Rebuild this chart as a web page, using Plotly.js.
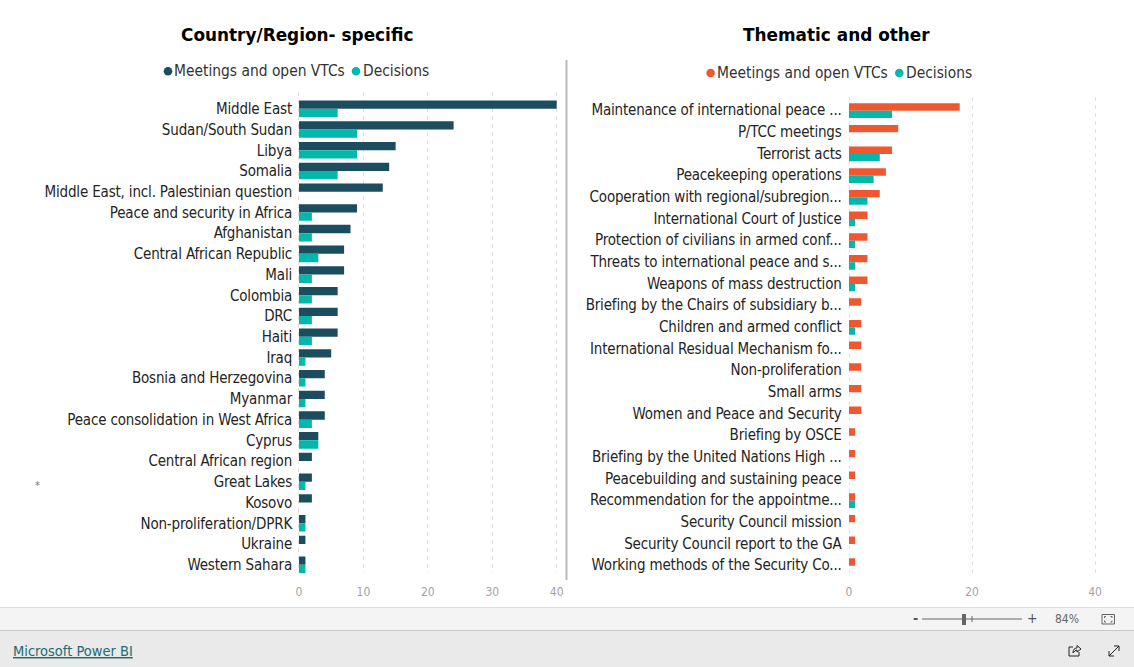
<!DOCTYPE html>
<html><head><meta charset="utf-8">
<script src="https://cdn.plot.ly/plotly-3.0.1.min.js"></script>
<style>html,body{margin:0;padding:0;background:#fff;overflow:hidden}#c{width:1134px;height:667px}
.ytick text,.y2tick text{letter-spacing:-0.17px}</style>
</head><body><div id="c"></div>
<script>
const countryCats = ["Middle East","Sudan/South Sudan","Libya","Somalia","Middle East, incl. Palestinian question","Peace and security in Africa","Afghanistan","Central African Republic","Mali","Colombia","DRC","Haiti","Iraq","Bosnia and Herzegovina","Myanmar","Peace consolidation in West Africa","Cyprus","Central African region","Great Lakes","Kosovo","Non-proliferation/DPRK","Ukraine","Western Sahara"];
const countryMeetings = [40,24,15,14,13,9,8,7,7,6,6,6,5,4,4,4,3,2,2,2,1,1,1];
const countryDecisions = [6,9,9,6,0,2,2,3,2,2,2,2,1,1,1,2,3,0,1,0,1,0,1];
const themeCats = ["Maintenance of international peace ...","P/TCC meetings","Terrorist acts","Peacekeeping operations","Cooperation with regional/subregion...","International Court of Justice","Protection of civilians in armed conf...","Threats to international peace and s...","Weapons of mass destruction","Briefing by the Chairs of subsidiary b...","Children and armed conflict","International Residual Mechanism fo...","Non-proliferation","Small arms","Women and Peace and Security","Briefing by OSCE","Briefing by the United Nations High ...","Peacebuilding and sustaining peace","Recommendation for the appointme...","Security Council mission","Security Council report to the GA","Working methods of the Security Co..."];
const themeMeetings = [18,8,7,6,5,3,3,3,3,2,2,2,2,2,2,1,1,1,1,1,1,1];
const themeDecisions = [7,0,5,4,3,1,1,1,1,0,1,0,0,0,0,0,0,0,1,0,0,0];
const seriesNames = ["Meetings and open VTCs","Decisions"];
const xTicksLeft = [0,10,20,30,40];
const xTicksRight = [0,20,40];

const W=1134,H=667;
const FONT='"DejaVu Sans Condensed","DejaVu Sans",sans-serif';
const DARK='#1B4D5F',TEAL='#01B8AA',ORANGE='#EF5730';
const X=p=>p/W, Y=p=>1-p/H;
const bar=(cats,vals,name,color,xa,ya,width,offset)=>({type:'bar',orientation:'h',y:cats,x:vals,name,xaxis:xa,yaxis:ya,width,offset,marker:{color},showlegend:false,hoverinfo:'x+y'});
const data=[
 bar(countryCats,countryMeetings,seriesNames[0],DARK,'x','y',0.4,-0.4),
 bar(countryCats,countryDecisions,seriesNames[1],TEAL,'x','y',0.4,0),
 bar(themeCats,themeMeetings,seriesNames[0],ORANGE,'x2','y2',0.34,-0.31),
 bar(themeCats,themeDecisions,seriesNames[1],TEAL,'x2','y2',0.34,0.03)
];
const xa=(l,r,ticks)=>{const pad=0.3,u=(r-l)/40;return {domain:[X(l-pad*u),X(r+pad*u)],range:[-pad,40+pad],tickvals:ticks,showgrid:true,gridcolor:'#e2e2e2',griddash:'4px,4px',gridwidth:1,
 zeroline:false,showline:false,ticks:'outside',ticklen:8,tickcolor:'rgba(0,0,0,0)',tickfont:{family:FONT,size:12,color:'#a3a3a3'},fixedrange:true};};
const ya=(t,b,cats,r,anchor,tl)=>({domain:[Y(b),Y(t)],type:'category',categoryorder:'array',categoryarray:cats,range:r,anchor,tickmode:'array',tickvals:cats,ticktext:cats,
 showgrid:false,zeroline:false,showline:false,ticks:'outside',ticklen:tl,tickcolor:'rgba(0,0,0,0)',tickfont:{family:FONT,size:15,color:'#252423'},fixedrange:true});
const txt=(x,y,text,size,color,extra)=>Object.assign({xref:'paper',yref:'paper',x:X(x),y:Y(y),text,showarrow:false,xanchor:'center',yanchor:'middle',font:{family:FONT,size,color}},extra||{});
const LEFT={xanchor:'left'};
const rect=(x0,y0,x1,y1,fill)=>({type:'rect',xref:'paper',yref:'paper',x0:X(x0),x1:X(x1),y0:Y(y0),y1:Y(y1),fillcolor:fill,line:{width:0},layer:'below'});
const line=(x0,y0,x1,y1,color,w)=>({type:'line',xref:'paper',yref:'paper',x0:X(x0),x1:X(x1),y0:Y(y0),y1:Y(y1),line:{color,width:w}});
const dot=(cx,cy,c,r=4.3)=>({type:'circle',xref:'paper',yref:'paper',x0:X(cx-r),x1:X(cx+r),y0:Y(cy+r),y1:Y(cy-r),fillcolor:c,line:{width:0}});
const TITLEFONT={family:'"DejaVu Sans",sans-serif',size:16.9,color:'#000',weight:'bold'};
const layout={width:W,height:H,margin:{l:0,r:0,t:0,b:0},paper_bgcolor:'#fff',plot_bgcolor:'rgba(0,0,0,0)',barmode:'group',bargap:0.18,bargroupgap:0,showlegend:false,
 xaxis:xa(299,556.7,xTicksLeft),
 yaxis:ya(92,573,countryCats,[22.40,-0.811],'x',1),
 xaxis2:Object.assign(xa(849,1095,xTicksRight),{anchor:'y2'}),
 yaxis2:ya(97,573,themeCats,[21.37,-0.6],'x2',1.5),
 annotations:[
  txt(297,35,'Country/Region- specific',17,'#000',{font:TITLEFONT}),
  txt(836.5,35,'Thematic and other',17,'#000',{font:TITLEFONT}),
  txt(171.5,71,seriesNames[0],15.4,'#333',LEFT),
  txt(360.5,71,seriesNames[1],15.4,'#333',LEFT),
  txt(714.8,73,seriesNames[0],15.4,'#333',LEFT),
  txt(903.7,73,seriesNames[1],15.4,'#333',LEFT),
  txt(37,485,'*',11,'#777'),
  txt(11,650.5,'<u>Microsoft Power BI</u>',14.5,'#1E6B73',LEFT),
  txt(915.5,618,'<b>-</b>',14,'#555'),
  txt(1032,618,'+',14,'#555'),
  txt(1067,619,'84%',12,'#666')
 ],
 shapes:[
  dot(168,71.3,DARK),dot(356,71.3,TEAL),dot(710.6,73,ORANGE),dot(899.3,73,TEAL),
  line(566.5,60,566.5,580,'#b9b9b9',2),
  rect(0,607,W,630,'#f4f4f4'),
  rect(0,630,W,H,'#eaeaea'),
  line(0,607.5,W,607.5,'#dddddd',1),
  line(0,630.5,W,630.5,'#c8c8c8',1),
  line(922,619,1022,619,'#666',1),
  line(972,616,972,622,'#666',1),
  rect(962,614,966,625,'#666'),
  {type:'rect',xref:'paper',yref:'paper',x0:X(1102),x1:X(1114.5),y0:Y(614.5),y1:Y(624),line:{color:'#666',width:1},fillcolor:'rgba(0,0,0,0)'},
  {type:'path',xref:'paper',yref:'paper',path:`M${X(1104.5)},${Y(618)} L${X(1104.5)},${Y(616.5)} L${X(1106)},${Y(616.5)} M${X(1110.5)},${Y(616.5)} L${X(1112)},${Y(616.5)} L${X(1112)},${Y(618)} M${X(1104.5)},${Y(620.5)} L${X(1104.5)},${Y(622)} L${X(1106)},${Y(622)} M${X(1110.5)},${Y(622)} L${X(1112)},${Y(622)} L${X(1112)},${Y(620.5)}`,line:{color:'#666',width:1}},
  {type:'path',xref:'paper',yref:'paper',path:`M${X(1073)},${Y(647)} L${X(1069)},${Y(647)} L${X(1069)},${Y(656)} L${X(1079)},${Y(656)} L${X(1079)},${Y(652)} M${X(1073)},${Y(653)} Q${X(1073)},${Y(648)} ${X(1077)},${Y(648)} L${X(1077)},${Y(645.5)} L${X(1081)},${Y(649)} L${X(1077)},${Y(652)} L${X(1077)},${Y(650)} Q${X(1075)},${Y(650)} ${X(1073)},${Y(653)}`,line:{color:'#222',width:1}},
  {type:'path',xref:'paper',yref:'paper',path:`M${X(1109)},${Y(656)} L${X(1119)},${Y(646)} M${X(1114)},${Y(646)} L${X(1119)},${Y(646)} L${X(1119)},${Y(651)} M${X(1109)},${Y(651)} L${X(1109)},${Y(656)} L${X(1114)},${Y(656)}`,line:{color:'#222',width:1}}
 ]
};
Plotly.newPlot('c',data,layout,{displayModeBar:false,responsive:false});
</script></body></html>
